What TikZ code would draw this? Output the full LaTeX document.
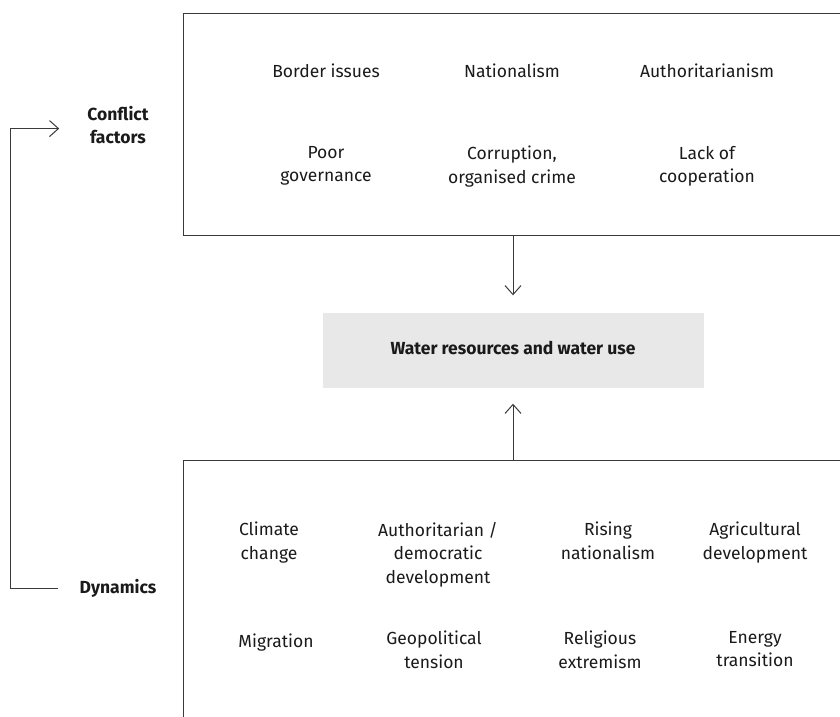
\documentclass[tikz,border=0pt]{standalone}
\usepackage{fontspec}
\setmainfont{Fira Sans}
\usetikzlibrary{arrows.meta,positioning}
\definecolor{FrameGray}{HTML}{3A3A3A}
\definecolor{CoreGray}{HTML}{E8E8E8}
\definecolor{InkBlack}{HTML}{1A1A1A}

\begin{document}
\begin{tikzpicture}[
  x=1pt,y=-1pt,
  node distance=61pt and 20pt,
  every node/.style={font=\fontsize{17.5}{23.5}\selectfont,align=center,inner sep=0pt,text=InkBlack},
  item/.style={anchor=north,execute at begin node=\strut,execute at end node=\strut},
  head/.style={item,font=\fontsize{17.5}{23.5}\selectfont\bfseries},
  frame/.style={draw=FrameGray,line width=1.2pt,anchor=north west,minimum width=720pt},
  core/.style={fill=CoreGray,minimum width=381pt,minimum height=75pt,execute at begin node=\strut,font=\fontsize{17.5}{23.5}\selectfont\bfseries},
  arrow/.style={-{Straight Barb[length=9pt,width=16pt]},line width=1pt,draw=FrameGray}
]
\useasboundingbox (0,0) rectangle (840,716);
\clip (0,0) rectangle (840,716);
% boxes
\node[frame,minimum height=222pt] (factors) at (183,13) {};
\node[frame,minimum height=300pt] (dynamics) at (183,460) {};
\node[core] (water) at (513,350) {Water resources and water use};
% conflict factors
\node[item] (border) at (326,61) {Border issues};
\node[item] (nation) at (512,61) {Nationalism};
\node[item] (autho) at (707,61) {Authoritarianism};
\node[item,below=of border] (poor) {Poor\\governance};
\node[item,below=of nation] (crime) {Corruption,\\organised crime};
\node[item,below=of autho] (coop) {Lack of\\cooperation};
% dynamics
\node[item] (climate) at (269,522) {Climate\\change};
\node[item] (authdem) at (438,522) {Authoritarian /\\democratic\\development};
\node[item] (rising) at (608,522) {Rising\\nationalism};
\node[item] (agri) at (755,522) {Agricultural\\development};
\node[item] (migr) at (276,631) {Migration};
\node[item] (geo) at (434,631) {Geopolitical\\tension};
\node[item] (relig) at (600,631) {Religious\\extremism};
\node[item] (energy) at (755,631) {Energy\\transition};
% side labels
\node[head] (conflict) at (118,106) {Conflict\\factors};
\node[head] (dyn) at (118,577) {Dynamics};
\draw[arrow] (factors.south -| water.north) -- ([yshift=17pt]water.north);
\draw[arrow] (dynamics.north -| water.south) -- ([yshift=-16pt]water.south);
\draw[arrow] ([xshift=-21pt]dyn.west) -- ++(-48pt,0) |- ([xshift=-28pt]conflict.west);
\end{tikzpicture}
\end{document}
